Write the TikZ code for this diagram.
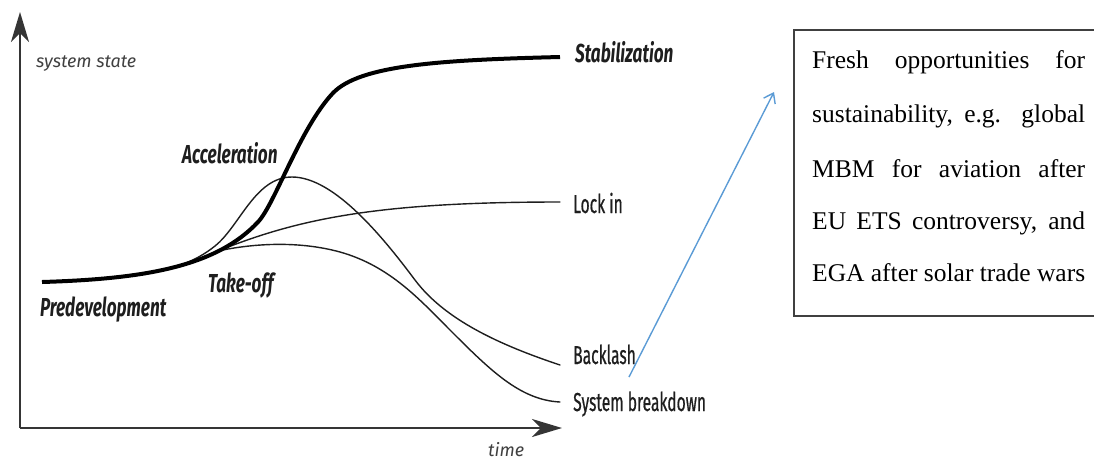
\documentclass[tikz,border=0pt]{standalone}
\usepackage{fontspec}
\setmainfont{Liberation Serif}
\newfontfamily\chartfont[FakeStretch=0.66]{Fira Sans}
\newfontfamily\outcomefont[FakeStretch=0.6, FakeBold=0.6]{Fira Sans}
\newfontfamily\axisfont{Fira Sans}
\usetikzlibrary{arrows.meta}
\definecolor{linkblue}{RGB}{91,155,213}
\definecolor{ink}{RGB}{30,30,30}
\begin{document}
\begin{tikzpicture}[x=1pt,y=-1pt,
  axis/.style={draw=ink!90, line width=2.6pt, -{Stealth[length=30pt,width=18pt,inset=9pt]}},
  path/.style={draw=ink, line width=1.4pt, line cap=round},
  mainpath/.style={draw=black, line width=4pt, line cap=butt},
  phase/.style={font=\chartfont\fontsize{26}{26}\selectfont\bfseries\itshape, inner sep=0, anchor=base west, text=ink},
  outcome/.style={font=\outcomefont\fontsize{26}{26}\selectfont, inner sep=0, anchor=base west, text=ink},
  axislabel/.style={font=\axisfont\fontsize{18}{18}\selectfont\itshape, inner sep=0, anchor=base west, text=ink!85},
  boxline/.style={font=\fontsize{25.5}{25.5}\selectfont, inner sep=0, anchor=base west}]
\useasboundingbox (0,0) rectangle (1094,459);
\clip (0,0) rectangle (1094,459);

% axes
\coordinate (origin) at (20,428);
\coordinate (ytip) at (20,12);
\coordinate (xtip) at (562,428);
\draw[axis] (origin) -- (ytip);
\draw[axis] (origin) -- (xtip);
\node[axislabel] (ylab) at (36,67) {system state};
\node[axislabel] (xlab) at (488,456) {time};

% end points of the transition paths
\coordinate (start) at (42,282);
\coordinate (hump) at (120,277);
\coordinate (fork) at (218,251);
\coordinate (stabend) at (560,57);
\coordinate (lockend) at (560,202);
\coordinate (backend) at (560,365);
\coordinate (breakend) at (560,402);

% overshoot that falls back into backlash
\draw[path] (hump) .. controls (170,272) and (195,262) .. (215,246)
  .. controls (240,226) and (255,177) .. (292,177)
  .. controls (335,177) and (385,240) .. (415,280)
  .. controls (445,320) and (500,345) .. (backend);
% lock-in
\draw[path] (fork) .. controls (300,218) and (380,202) .. (lockend);
% system breakdown
\draw[path] (fork) .. controls (255,243) and (300,241) .. (340,252)
  .. controls (390,266) and (420,300) .. (450,330)
  .. controls (490,370) and (520,400) .. (breakend);
% successful transition
\draw[mainpath] (start) .. controls (140,279) and (215,268) .. (258,222)
  .. controls (275,204) and (300,128) .. (333,93)
  .. controls (360,65) and (440,60) .. (stabend);

% phase and outcome labels
\node[phase] (predev) at (40,316) {Predevelopment};
\node[phase] (takeoff) at (208,292) {Take-off};
\node[phase] (accel) at (182,163) {Acceleration};
\node[phase] (stab) at (575,62) {Stabilization};
\node[outcome] (lockin) at (573,213) {Lock in};
\node[outcome] (backlash) at (573,364) {Backlash};
\node[outcome] (breakdown) at (573,411) {System breakdown};

% note box, open where it runs off the right edge, and pointer
\coordinate (boxne) at (1100,30);
\coordinate (boxnw) at (794,30);
\coordinate (boxsw) at (794,316);
\coordinate (boxse) at (1100,316);
\draw[ink!85, line width=1.5pt] (boxne) -- (boxnw) -- (boxsw) -- (boxse);
\node[boxline] (n1) at (812,68) {\makebox[273pt][s]{Fresh opportunities for}};
\node[boxline] (n2) at (812,122) {\makebox[273pt][s]{sustainability, e.g. global}};
\node[boxline] (n3) at (812,177) {\makebox[273pt][s]{MBM for aviation after}};
\node[boxline] (n4) at (812,229) {\makebox[273pt][s]{EU ETS controversy, and}};
\node[boxline] (n5) at (812,281) {\makebox[273pt][s]{EGA after solar trade wars}};

\coordinate (ptrstart) at (629,377);
\coordinate (ptrend) at (774,92);
\draw[linkblue, line width=1.4pt, -{Straight Barb[length=9pt,width=13pt]}] (ptrstart) -- (ptrend);
\end{tikzpicture}
\end{document}
